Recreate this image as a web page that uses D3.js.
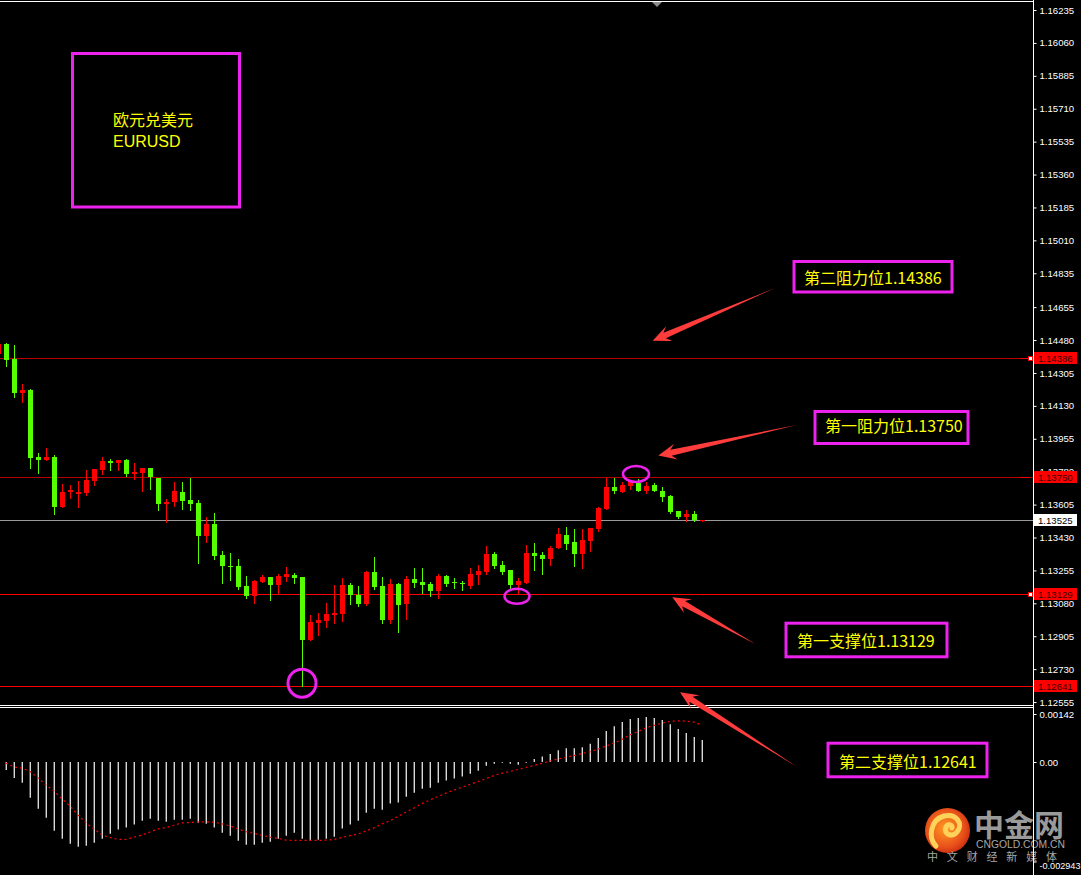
<!DOCTYPE html>
<html><head><meta charset="utf-8">
<script src="https://cdn.jsdelivr.net/npm/d3@7/dist/d3.min.js"></script>
<style>html,body{margin:0;padding:0;background:#000;}svg{display:block;}</style>
</head><body>
<script>
// ---------- DATA ----------
const openP = [1.14406,1.14459,1.14379,1.14198,1.14214,1.13858,1.13844,1.13858,1.13594,1.13672,1.13663,1.13668,1.13732,1.13790,1.13837,1.13828,1.13842,1.13769,1.13774,1.13799,1.13748,1.13610,1.13620,1.13672,1.13629,1.13613,1.13439,1.13502,1.13337,1.13278,1.13278,1.13172,1.13120,1.13195,1.13220,1.13179,1.13220,1.13231,1.13220,1.12887,1.12975,1.12986,1.13019,1.13025,1.13177,1.13124,1.13078,1.13247,1.13172,1.12993,1.13183,1.13078,1.13209,1.13193,1.13183,1.13147,1.13225,1.13193,1.13188,1.13174,1.13232,1.13248,1.13342,1.13284,1.13257,1.13179,1.13188,1.13348,1.13337,1.13316,1.13374,1.13443,1.13406,1.13342,1.13411,1.13475,1.13581,1.13698,1.13673,1.13705,1.13720,1.13679,1.13709,1.13677,1.13651,1.13571,1.13541,1.13555,1.13518];
const highP = [1.14470,1.14466,1.14453,1.14246,1.14220,1.13879,1.13906,1.13869,1.13714,1.13709,1.13730,1.13789,1.13794,1.13858,1.13847,1.13842,1.13847,1.13826,1.13799,1.13799,1.13748,1.13635,1.13725,1.13725,1.13746,1.13629,1.13539,1.13560,1.13358,1.13348,1.13316,1.13225,1.13204,1.13231,1.13220,1.13236,1.13273,1.13241,1.13220,1.13018,1.13029,1.13082,1.13177,1.13215,1.13188,1.13172,1.13252,1.13326,1.13220,1.13209,1.13188,1.13225,1.13268,1.13268,1.13193,1.13236,1.13231,1.13215,1.13199,1.13268,1.13284,1.13385,1.13353,1.13305,1.13257,1.13215,1.13390,1.13401,1.13353,1.13385,1.13480,1.13486,1.13475,1.13475,1.13480,1.13592,1.13746,1.13746,1.13725,1.13730,1.13741,1.13725,1.13720,1.13698,1.13656,1.13571,1.13576,1.13571,1.13525];
const lowP = [1.14400,1.14342,1.14179,1.14150,1.13801,1.13774,1.13844,1.13556,1.13594,1.13641,1.13594,1.13656,1.13709,1.13769,1.13790,1.13790,1.13758,1.13741,1.13679,1.13689,1.13578,1.13514,1.13599,1.13581,1.13576,1.13296,1.13408,1.13317,1.13190,1.13206,1.13158,1.13110,1.13083,1.13195,1.13099,1.13136,1.13200,1.13190,1.12642,1.12887,1.12913,1.12956,1.12977,1.12988,1.13078,1.13067,1.13073,1.13158,1.12977,1.12977,1.12929,1.12998,1.13168,1.13136,1.13120,1.13110,1.13174,1.13163,1.13152,1.13163,1.13184,1.13237,1.13269,1.13237,1.13158,1.13136,1.13188,1.13259,1.13237,1.13284,1.13374,1.13369,1.13278,1.13269,1.13358,1.13466,1.13581,1.13668,1.13673,1.13688,1.13679,1.13668,1.13679,1.13626,1.13562,1.13535,1.13519,1.13519,1.13518];
const closeP = [1.14459,1.14374,1.14200,1.14214,1.13854,1.13844,1.13858,1.13594,1.13672,1.13682,1.13672,1.13736,1.13794,1.13837,1.13828,1.13842,1.13769,1.13778,1.13799,1.13752,1.13610,1.13619,1.13677,1.13626,1.13610,1.13439,1.13502,1.13333,1.13280,1.13275,1.13168,1.13120,1.13199,1.13220,1.13179,1.13225,1.13236,1.13216,1.12887,1.12981,1.12991,1.13023,1.13029,1.13177,1.13123,1.13078,1.13247,1.13168,1.12993,1.13183,1.13073,1.13209,1.13190,1.13179,1.13147,1.13225,1.13184,1.13186,1.13181,1.13236,1.13252,1.13342,1.13280,1.13248,1.13179,1.13199,1.13348,1.13332,1.13317,1.13374,1.13449,1.13395,1.13342,1.13417,1.13480,1.13587,1.13698,1.13679,1.13709,1.13730,1.13679,1.13704,1.13679,1.13647,1.13567,1.13541,1.13555,1.13525,1.13525];

// MACD histogram and signal (start at the 2nd candle)
const macdHist = [-0.00024,-0.00047,-0.00061,-0.00106,-0.00138,-0.00165,-0.00203,-0.00227,-0.00242,-0.00251,-0.00248,-0.00239,-0.00227,-0.00212,-0.00200,-0.00194,-0.00185,-0.00174,-0.00168,-0.00174,-0.00177,-0.00171,-0.00171,-0.00168,-0.00180,-0.00183,-0.00194,-0.00209,-0.00218,-0.00233,-0.00245,-0.00245,-0.00239,-0.00236,-0.00227,-0.00218,-0.00209,-0.00227,-0.00233,-0.00230,-0.00227,-0.00221,-0.00197,
 -0.00185,-0.00174,-0.00150,-0.00138,-0.00141,-0.00123,-0.00120,-0.00103,-0.00091,-0.00079,-0.00076,-0.00061,-0.00055,-0.00049,-0.00043,-0.00035,-0.00026,-0.00011,-0.00005,-0.00002,-0.00005,-0.00008,-0.00002,0.00009,0.00016,0.00024,0.00035,0.00041,0.00041,0.00044,0.00054,0.00071,0.00092,0.00106,0.00118,0.00127,0.00130,0.00133,0.00130,0.00124,0.00112,0.00098,0.00086,0.00074,0.00065];
const macdSignal = [-0.00003,-0.00015,-0.00018,-0.00028,-0.00047,-0.00068,-0.00086,-0.00109,-0.00130,-0.00157,-0.00180,-0.00198,-0.00216,-0.00223,-0.00229,-0.00229,-0.00222,-0.00216,-0.00207,-0.00198,-0.00194,-0.00187,-0.00180,-0.00179,-0.00177,-0.00177,-0.00178,-0.00183,-0.00189,-0.00198,-0.00206,-0.00211,-0.00217,-0.00222,-0.00226,-0.00231,-0.00232,-0.00232,-0.00232,-0.00232,-0.00231,-0.00229,-0.00223,-0.00218,-0.00213,-0.00204,-0.00195,-0.00183,-0.00174,-0.00161,-0.00148,-0.00136,-0.00123,-0.00112,-0.00102,-0.00092,-0.00083,-0.00075,-0.00066,-0.00058,-0.00049,-0.00040,-0.00033,-0.00028,-0.00022,-0.00016,-0.00010,-0.00004,0.00003,0.00009,0.00014,0.00019,0.00025,0.00030,0.00038,0.00047,0.00056,0.00067,0.00080,0.00090,0.00101,0.00108,0.00115,0.00120,0.00122,0.00121,0.00118,0.00109];

const priceTicks = [1.16235,1.16060,1.15885,1.15710,1.15535,1.15360,1.15185,1.15010,1.14835,1.14655,1.14480,1.14305,1.14130,1.13955,1.13780,1.13605,1.13430,1.13255,1.13080,1.12905,1.12730,1.12555];
const macdTicks = [0.00142, 0, -0.002943];
const macdTickLabels = ["0.00142", "0.00", "-0.002943"];

const levelPrices = [1.14386, 1.13750, 1.13525, 1.13129, 1.12641];
const levelKinds = ["res", "res", "cur", "sup", "sup"];
const levelTexts = ["第二阻力位1.14386", "第一阻力位1.13750", "第一支撑位1.13129", "第二支撑位1.12641"];
const titleLines = ["欧元兑美元", "EURUSD"];

// ---------- LAYOUT ----------
const W = 1081, H = 875, AX = 1033;
const svg = d3.select("body").append("svg").attr("width", W).attr("height", H);
svg.append("rect").attr("width", W).attr("height", H).attr("fill", "#000");

const x = d3.scaleLinear().domain([0, 88]).range([-2, 702]);
const y = d3.scaleLinear().domain([1.12555, 1.16235]).range([702.05, 10]);
const yM = d3.scaleLinear().domain([-0.002943, 0.00142]).range([861.5, 714]);
const px = v => Math.round(v) + 0.5;

const defs = svg.append("defs");
defs.append("clipPath").attr("id", "mainClip").append("rect").attr("x", 0).attr("y", 2).attr("width", AX).attr("height", 702);
defs.append("clipPath").attr("id", "macdClip").append("rect").attr("x", 0).attr("y", 708).attr("width", AX).attr("height", 167);

// frame lines
svg.append("line").attr("x1", 0).attr("x2", AX).attr("y1", 1.5).attr("y2", 1.5).attr("stroke", "#fff");
svg.append("line").attr("x1", 0).attr("x2", AX).attr("y1", 705.5).attr("y2", 705.5).attr("stroke", "#fff");
svg.append("line").attr("x1", 0).attr("x2", AX).attr("y1", 707.5).attr("y2", 707.5).attr("stroke", "#fff");
svg.append("path").attr("d", "M652,2 L662,2 L657,7 Z").attr("fill", "#8c8c8c");

// level lines
const main = svg.append("g").attr("clip-path", "url(#mainClip)");
levelPrices.forEach((p, i) => {
  const col = levelKinds[i] === "cur" ? "#9a9a9a" : (levelKinds[i] === "res" ? "#b40000" : "#ff0000");
  main.append("line").attr("x1", 0).attr("x2", AX).attr("y1", px(y(p))).attr("y2", px(y(p)))
    .attr("stroke", col).attr("stroke-width", 1);
});

// candles
const candles = d3.range(openP.length).map(i => ({i, o: openP[i], h: highP[i], l: lowP[i], c: closeP[i]}));
const up = "#ff0000", down = "#55ff00";
const cg = main.append("g");
cg.selectAll("line.w").data(candles).join("line").attr("class", "w")
  .attr("x1", d => px(x(d.i))).attr("x2", d => px(x(d.i)))
  .attr("y1", d => Math.round(y(d.h))).attr("y2", d => Math.round(y(d.l)) + 1)
  .attr("stroke", d => d.c > d.o ? up : down);
cg.selectAll("rect.b").data(candles).join("rect").attr("class", "b")
  .attr("x", d => Math.round(x(d.i)) - 2).attr("width", 5)
  .attr("y", d => Math.round(Math.min(y(d.o), y(d.c))))
  .attr("height", d => Math.max(1, Math.round(Math.abs(y(d.o) - y(d.c)))))
  .attr("fill", d => d.c > d.o ? up : down);

// MACD
const mg = svg.append("g").attr("clip-path", "url(#macdClip)");
mg.selectAll("line.h").data(macdHist).join("line").attr("class", "h")
  .attr("x1", (d, i) => x(i + 1) + 0.3).attr("x2", (d, i) => x(i + 1) + 0.3)
  .attr("y1", yM(0)).attr("y2", d => yM(d))
  .attr("stroke", "#d8d8d8").attr("stroke-width", 1.4);
mg.append("path").datum(macdSignal)
  .attr("d", d3.line().x((d, i) => x(i + 1)).y(d => yM(d)))
  .attr("fill", "none").attr("stroke", "#ff0000").attr("stroke-width", 1.2).attr("stroke-dasharray", "2,3");

// ---------- LOGO (under axis labels) ----------
const lg = defs.append("radialGradient").attr("id", "lg").attr("cx", "45%").attr("cy", "45%").attr("r", "60%");
lg.append("stop").attr("offset", "0%").attr("stop-color", "#ff9a20");
lg.append("stop").attr("offset", "70%").attr("stop-color", "#e8501a");
lg.append("stop").attr("offset", "100%").attr("stop-color", "#c82a10");
const logo = svg.append("g");
logo.append("circle").attr("cx", 947.5).attr("cy", 830.5).attr("r", 22.5).attr("fill", "url(#lg)");
logo.append("path").attr("d", "M936,846 C928,838 930,820 944,816 C956,813 964,824 957,832 C952,838 943,834 946,827 C948,823 953,825 952,828")
  .attr("fill", "none").attr("stroke", "#ffd35a").attr("stroke-width", 5).attr("stroke-linecap", "round");
logo.append("text").attr("x", 974).attr("y", 836).text("中金网").attr("fill", "#9a9a9a")
  .attr("font-family", "Noto Sans CJK SC").attr("font-weight", "bold").attr("font-size", "30px");
logo.append("text").attr("x", 976).attr("y", 848).text("CNGOLD.COM.CN").attr("fill", "#a8a8a8")
  .attr("font-family", "Liberation Sans, Arial").attr("font-size", "10px").attr("textLength", 89).attr("lengthAdjust", "spacingAndGlyphs");
logo.append("text").attr("x", 927).attr("y", 861).text("中文财经新媒体").attr("fill", "#a8a8a8")
  .attr("font-family", "Noto Sans CJK SC").attr("font-size", "11px").attr("textLength", 130).attr("lengthAdjust", "spacing");

// axes
svg.append("line").attr("x1", AX + 0.5).attr("x2", AX + 0.5).attr("y1", 0).attr("y2", H).attr("stroke", "#fff");
const ag = svg.append("g").attr("transform", `translate(${AX + 0.5},0)`)
  .call(d3.axisRight(y).tickValues(priceTicks).tickFormat(d3.format(".5f")).tickSize(3).tickPadding(3));
ag.select(".domain").remove();
ag.selectAll("line").attr("stroke", "#fff");
ag.selectAll("text").attr("fill", "#fff").attr("font-family", "Liberation Sans, Arial, sans-serif").attr("font-size", "9.6px");

const mag = svg.append("g").attr("transform", `translate(${AX + 0.5},0)`)
  .call(d3.axisRight(yM).tickValues(macdTicks).tickFormat((d, i) => macdTickLabels[i]).tickSize(3).tickPadding(3));
mag.select(".domain").remove();
mag.selectAll("line").attr("stroke", "#fff");
mag.selectAll("text").attr("fill", "#fff").attr("font-family", "Liberation Sans, Arial, sans-serif").attr("font-size", "9.6px")
  .attr("dy", (d, i) => i === 2 ? "0.75em" : "0.32em")
  .each(function(d, i) { if (i === 2) d3.select(this).attr("font-size", "9px").attr("textLength", 41).attr("lengthAdjust", "spacingAndGlyphs"); });

// level price tags
levelPrices.forEach((p, i) => {
  const yy = Math.round(y(p));
  const cur = levelKinds[i] === "cur";
  svg.append("rect").attr("x", 1034).attr("y", yy - 6).attr("width", 43).attr("height", 12)
    .attr("fill", cur ? "#fff" : "#ff0000");
  svg.append("text").attr("x", 1038).attr("y", yy + 4).text(d3.format(".5f")(p))
    .attr("fill", cur ? "#000" : "#3a0000").attr("font-family", "Liberation Sans, Arial, sans-serif").attr("font-size", "9.6px");
  if (levelKinds[i] !== "cur") {
    svg.append("line").attr("x1", 1020).attr("x2", 1030).attr("y1", yy + 0.5).attr("y2", yy + 0.5).attr("stroke", "#ff0000");
  }
  if (i === 0 || i === 3) {
    svg.append("rect").attr("x", 1028.5).attr("y", yy - 1.5).attr("width", 4).attr("height", 4)
      .attr("fill", "#fff").attr("stroke", "#ff0000");
  }
});

// ---------- ANNOTATIONS ----------
const MAG = "#ee22ee", YEL = "#ffff00", ARW = "#ff3c3c";
const ann = svg.append("g");
ann.append("rect").attr("x", 72.5).attr("y", 53.5).attr("width", 167).attr("height", 153.5)
  .attr("fill", "none").attr("stroke", MAG).attr("stroke-width", 3);
ann.append("text").attr("x", 113).attr("y", 126).text(titleLines[0])
  .attr("fill", YEL).attr("font-family", "Noto Sans CJK SC").attr("font-size", "16px");
ann.append("text").attr("x", 113).attr("y", 147).text(titleLines[1])
  .attr("fill", YEL).attr("font-family", "Liberation Sans, Arial").attr("font-size", "16px");

const boxes = [
  {r: [794, 261.5, 158, 30.5], t: [804, 284]},
  {r: [815, 411.5, 153, 32], t: [825, 432]},
  {r: [786, 623.2, 161, 33.6], t: [797, 647]},
  {r: [828, 743.2, 159, 33.6], t: [839, 768]}
];
boxes.forEach((b, i) => {
  ann.append("rect").attr("x", b.r[0]).attr("y", b.r[1]).attr("width", b.r[2]).attr("height", b.r[3])
    .attr("fill", "#000").attr("stroke", MAG).attr("stroke-width", 3);
  ann.append("text").attr("x", b.t[0]).attr("y", b.t[1]).text(levelTexts[i])
    .attr("fill", YEL).attr("font-family", "Noto Sans CJK SC").attr("font-size", "16px");
});

const arrows = [
  {t: [775, 288], p: [652.7, 340.7]},
  {t: [796.7, 425], p: [658.3, 455.5]},
  {t: [755.7, 644.3], p: [672.3, 597.3]},
  {t: [796.7, 766.7], p: [680, 692.3]}
];
arrows.forEach(a => {
  const [tx, ty] = a.t, [ex, ey] = a.p;
  const L = Math.hypot(ex - tx, ey - ty), ux = (ex - tx) / L, uy = (ey - ty) / L, nx = -uy, ny = ux;
  const hl = 18, neck = 13, hw = 8, sw = 3;
  const nbx = ex - ux * neck, nby = ey - uy * neck, bbx = ex - ux * hl, bby = ey - uy * hl;
  const pts = [[tx, ty], [nbx + nx * sw, nby + ny * sw], [bbx + nx * hw, bby + ny * hw], [ex, ey],
    [bbx - nx * hw, bby - ny * hw], [nbx - nx * sw, nby - ny * sw]];
  ann.append("path").attr("d", "M" + pts.map(q => q.join(",")).join("L") + "Z").attr("fill", ARW);
});

ann.append("ellipse").attr("cx", x(38)).attr("cy", y(lowP[38]) - 2.5).attr("rx", 14).attr("ry", 14)
  .attr("fill", "none").attr("stroke", MAG).attr("stroke-width", 3);
ann.append("ellipse").attr("cx", x(80) - 2).attr("cy", y(highP[80]) - 5).attr("rx", 13).attr("ry", 8)
  .attr("fill", "none").attr("stroke", MAG).attr("stroke-width", 2.5);
ann.append("ellipse").attr("cx", x(65) - 1).attr("cy", y(lowP[65]) + 3.5).attr("rx", 12.5).attr("ry", 7.5)
  .attr("fill", "none").attr("stroke", MAG).attr("stroke-width", 2.5);
</script>
</body></html>
